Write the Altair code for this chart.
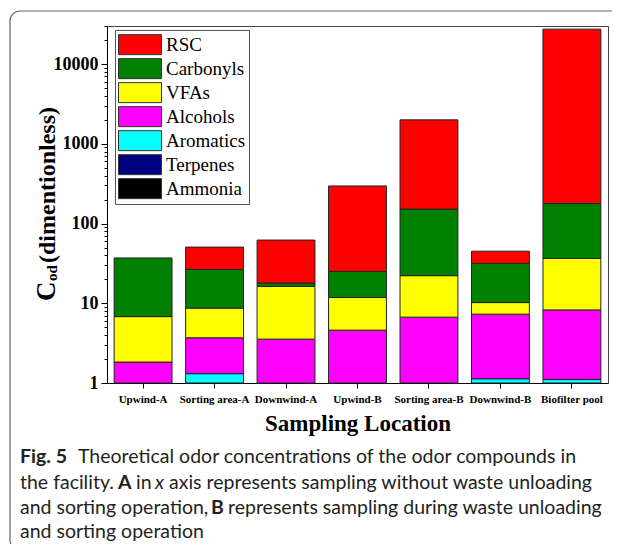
import altair as alt
import pandas as pd

# ---- data ----
locations = ["Upwind-A", "Sorting area-A", "Downwind-A", "Upwind-B",
             "Sorting area-B", "Downwind-B", "Biofilter pool"]
# stacking order from bottom to top
ammonia   = [0, 0, 0, 0, 0, 0, 0]
terpenes  = [0, 0, 0, 0, 0, 0, 0]
aromatics = [0, 1.31, 0, 0, 0, 1.13, 1.11]
alcohols  = [1.83, 2.38, 3.55, 4.60, 6.70, 6.17, 7.14]
vfas      = [4.97, 5.01, 12.75, 7.20, 15.5, 2.90, 28.25]
carbonyls = [30.2, 17.9, 1.60, 13.3, 129.8, 21.4, 141.5]
rsc       = [0, 24.0, 44.1, 270.9, 1843, 13.4, 27222]

legend_order = ["RSC", "Carbonyls", "VFAs", "Alcohols", "Aromatics", "Terpenes", "Ammonia"]
colors = ["#FF0000", "#008000", "#FFFF00", "#FF00FF", "#00FFFF", "#000080", "#000000"]
major_ticks = [1, 10, 100, 1000, 10000]
minor_ticks = [m * 10 ** k for k in range(0, 5) for m in range(2, 10) if m * 10 ** k <= 30000]

stack = [("Ammonia", ammonia), ("Terpenes", terpenes), ("Aromatics", aromatics),
         ("Alcohols", alcohols), ("VFAs", vfas), ("Carbonyls", carbonyls), ("RSC", rsc)]

rows = []
for i, loc in enumerate(locations):
    cum = 0.0
    for name, vals in stack:
        v = vals[i]
        lo = cum
        cum += v
        if v > 0:
            rows.append({"loc": loc, "compound": name,
                         "bottom": max(lo, 1.0), "top": cum})
df = pd.DataFrame(rows)

W, H = 501, 357
OX, OY = 107, 26  # plot origin on the page
TOTAL_H = 536

serif = "Liberation Serif"
cap_font = "Lato"
cap_size = 19.5

bars = alt.Chart(df).mark_bar(stroke="#222222", strokeWidth=1).encode(
    x=alt.X("loc:N", sort=locations,
            scale=alt.Scale(paddingInner=0.19, paddingOuter=0.1),
            axis=alt.Axis(title="Sampling Location", labelAngle=0,
                          labelFont=serif, labelFontWeight="bold", labelFontSize=11,
                          labelColor="black", labelPadding=5,
                          tickSize=5, tickColor="black", domainColor="black",
                          titleFont=serif, titleFontWeight="bold", titleFontSize=23,
                          titleColor="black", titlePadding=8)),
    y=alt.Y("bottom:Q",
            scale=alt.Scale(type="log", domain=[1, 30000], nice=False),
            axis=alt.Axis(title=None, values=major_ticks + minor_ticks,
                          labelExpr="indexof([1,10,100,1000,10000], datum.value) >= 0 ? format(datum.value, 'd') : ''",
                          labelFont=serif, labelFontWeight="bold", labelFontSize=18,
                          labelColor="black", labelPadding=3, labelOverlap=False,
                          labelFlush=False, grid=False,
                          tickSize={"condition": {"test": "indexof([1,10,100,1000,10000], datum.value) >= 0", "value": 6}, "value": 3},
                          tickColor="black", domainColor="black")),
    y2="top:Q",
    color=alt.Color("compound:N",
                    scale=alt.Scale(domain=legend_order, range=colors),
                    legend=alt.Legend(title=None, orient="none", legendX=8, legendY=4,
                                      symbolType="M-1,-0.465L1,-0.465L1,0.465L-1,0.465Z",
                                      symbolSize=1849, symbolStrokeColor="#333333",
                                      symbolStrokeWidth=1, symbolOpacity=1,
                                      clipHeight=23.3, rowPadding=0,
                                      labelFont=serif, labelFontSize=19, labelColor="black",
                                      labelOffset=4, labelLimit=200,
                                      strokeColor="#555555", padding=3)),
)

one = pd.DataFrame({"k": [0]})

# rounded outer frame of the figure
frame = alt.Chart(one).mark_rect(fill=None, stroke="#666666", strokeWidth=1.2,
                                 cornerRadius=10, clip=False).encode(
    x=alt.value(10 - OX), x2=alt.value(640 - OX),
    y=alt.value(11 - OY), y2=alt.value(550 - OY))

# y-axis title C_od(dimentionless)
ytitle = pd.DataFrame({
    "t": ["C", "od", "(dimentionless)"],
    "x": [55 - OX, 57 - OX, 55 - OX],
    "y": [301 - OY, 281 - OY, 263 - OY],
    "s": [27, 15, 24],
})
ytexts = []
for _, r in ytitle.iterrows():
    ytexts.append(alt.Chart(pd.DataFrame([r])).mark_text(
        angle=270, align="left", baseline="alphabetic", font=serif,
        fontWeight="bold", fontSize=int(r["s"]), color="black", clip=False).encode(
        x=alt.X("x:Q", scale=None), y=alt.Y("y:Q", scale=None), text="t:N"))

# caption
cap_regular = pd.DataFrame({
    "t": ["Theoretical odor concentrations of the odor compounds in",
          "the facility.", "in", "axis represents sampling without waste unloading",
          "and sorting operation,", "represents sampling during waste unloading",
          "and sorting operation"],
    "x": [78, 20, 136, 169, 20, 228, 20],
    "y": [463, 489, 489, 489, 514, 514, 538],
})
cap_bold = pd.DataFrame({"t": ["Fig. 5", "A", "B"], "x": [20, 118, 211], "y": [463, 489, 514]})
cap_italic = pd.DataFrame({"t": ["x"], "x": [155], "y": [489]})
for d in (cap_regular, cap_bold, cap_italic):
    d["x"] = d["x"] - OX
    d["y"] = d["y"] - OY

def cap_layer(d, **kw):
    return alt.Chart(d).mark_text(align="left", baseline="alphabetic", font=cap_font,
                                  fontSize=cap_size, color="#231f20", clip=False, **kw).encode(
        x=alt.X("x:Q", scale=None), y=alt.Y("y:Q", scale=None), text="t:N")

caption = [cap_layer(cap_regular), cap_layer(cap_bold, fontWeight="bold"),
           cap_layer(cap_italic, fontStyle="italic")]

chart = alt.layer(bars, frame, *ytexts, *caption).resolve_scale(
    x="independent", y="independent"
).properties(
    width=W, height=H,
    autosize=alt.AutoSizeParams(type="none"),
    padding={"left": OX - 8, "top": OY - 8, "right": 604 - (OX - 8) - W,
             "bottom": TOTAL_H - (OY - 8) - H},
    background="white",
).configure_view(stroke="#444444", strokeWidth=1)

chart.save("out.html", embed_options={"renderer": "svg", "actions": False})
